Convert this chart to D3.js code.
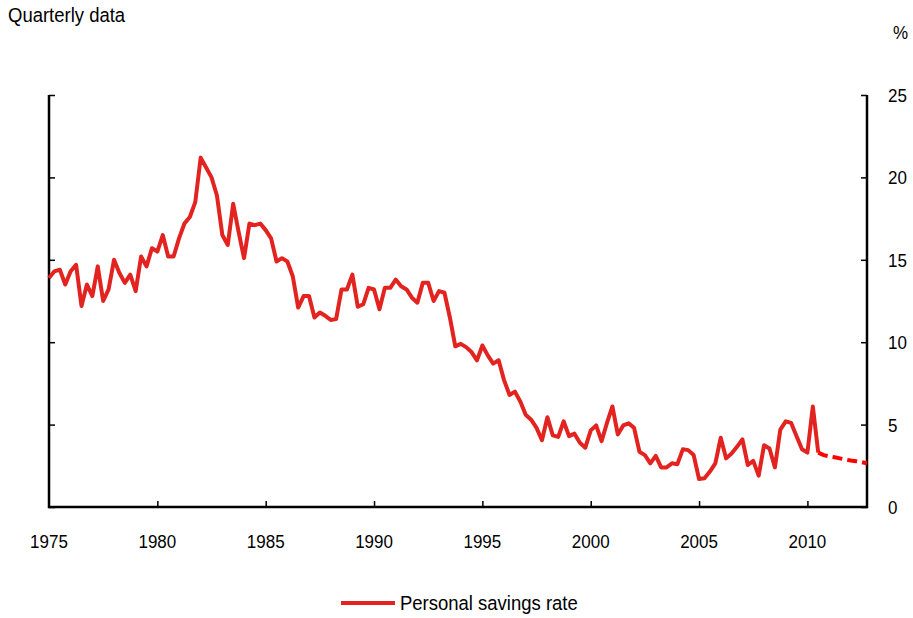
<!DOCTYPE html>
<html><head><meta charset="utf-8">
<script src="https://cdn.jsdelivr.net/npm/d3@7/dist/d3.min.js"></script>
<style>
html,body{margin:0;padding:0;background:#fff;}
svg{display:block;font-family:Arial,"Liberation Sans",sans-serif;}
</style></head>
<body><svg id="chart" width="913" height="618"></svg>
<script>
// Personal savings rate, quarterly from 1975 Q1
const startYear = 1975;
const savingsRate = [
 13.9,14.3,14.4,13.5,14.3,14.7,12.2,13.5,12.8,14.6,12.5,13.2,15.0,14.2,13.6,14.1,
 13.1,15.2,14.6,15.7,15.5,16.5,15.2,15.2,16.3,17.2,17.6,18.5,21.2,20.6,20.0,18.9,
 16.5,15.9,18.4,16.7,15.1,17.2,17.1,17.2,16.8,16.3,14.9,15.1,14.9,14.0,12.1,12.8,
 12.8,11.5,11.8,11.6,11.35,11.4,13.2,13.2,14.1,12.15,12.3,13.3,13.2,12.0,13.3,13.3,
 13.8,13.4,13.2,12.7,12.4,13.6,13.6,12.5,13.1,13.0,11.5,9.75,9.9,9.7,9.4,8.9,
 9.8,9.2,8.7,8.9,7.7,6.8,7.0,6.4,5.6,5.3,4.8,4.05,5.45,4.35,4.25,5.2,
 4.3,4.45,3.9,3.6,4.65,4.95,4.0,5.1,6.1,4.4,4.95,5.08,4.8,3.35,3.15,2.65,
 3.1,2.4,2.4,2.65,2.6,3.5,3.45,3.15,1.7,1.75,2.15,2.65,4.2,2.95,3.25,3.65,
 4.1,2.55,2.8,1.9,3.75,3.55,2.4,4.7,5.2,5.1,4.3,3.5,3.3,6.1,3.3
];
// Projection, quarterly from 2010 Q3
const projStartYear = 2010.5;
const projection = [3.3,3.15,3.08,3.02,2.95,2.88,2.82,2.78,2.72,2.65];
const xTicks = [1975,1980,1985,1990,1995,2000,2005,2010];
const yTicks = [0,5,10,15,20,25];
const seriesName = "Personal savings rate";

const svg = d3.select("#chart");
const L = 49, R = 867, T = 95, B = 507;
const x = d3.scaleLinear().domain([1975, 2012.75]).range([L, R]);
const y = d3.scaleLinear().domain([0, 25]).range([B, T]);

const solid = savingsRate.map((v,i)=>({t:startYear+i/4, v}));
const proj = projection.map((v,i)=>({t:projStartYear+i/4, v}));
const line = d3.line().x(d=>x(d.t)).y(d=>y(d.v));

// tall, slightly condensed text like the reference
function label(g, px, py, txt, size, anchor, sy) {
  return g.append("text")
    .attr("transform",`translate(${px},${py}) scale(1,${sy})`)
    .attr("text-anchor",anchor).attr("font-size",size).attr("fill","#000").text(txt);
}

// axes
const ax = svg.append("g").attr("transform",`translate(0,${B})`)
  .call(d3.axisTop(x).tickValues(xTicks.slice(1)).tickSize(6).tickFormat(""));
ax.select(".domain").remove();
ax.selectAll("line").attr("stroke","#000").attr("stroke-width",1.5);
const xl = svg.append("g");
xTicks.forEach(d=>label(xl, x(d), 548, d, 17, "middle", 1.12));

const ayL = svg.append("g").attr("transform",`translate(${L},0)`)
  .call(d3.axisRight(y).tickValues(yTicks).tickSize(6).tickFormat(""));
ayL.select(".domain").remove();
ayL.selectAll("line").attr("stroke","#000").attr("stroke-width",1.5);
const ayR = svg.append("g").attr("transform",`translate(${R},0)`)
  .call(d3.axisLeft(y).tickValues(yTicks).tickSize(6).tickFormat(""));
ayR.select(".domain").remove();
ayR.selectAll("line").attr("stroke","#000").attr("stroke-width",1.5);
const yl = svg.append("g");
yTicks.forEach(d=>label(yl, 888, y(d)+7, d, 17, "start", 1.12));

svg.append("path").attr("d",`M${L},${T}V${B}H${R}V${T}`)
  .attr("fill","none").attr("stroke","#000").attr("stroke-width",2.5);

// series
svg.append("path").datum(solid).attr("d",line)
  .attr("fill","none").attr("stroke","#e2231f").attr("stroke-width",4)
  .attr("stroke-linejoin","round");
svg.append("path").datum(proj).attr("d",line)
  .attr("fill","none").attr("stroke","#ff0000").attr("stroke-width",4)
  .attr("stroke-dasharray","10,5");

// texts
label(svg, 8, 22, "Quarterly data", 18.5, "start", 1.05);
label(svg, 893, 39, "%", 17, "start", 1.12);

// legend
svg.append("line").attr("x1",341).attr("x2",395).attr("y1",603).attr("y2",603)
  .attr("stroke","#e2231f").attr("stroke-width",4);
label(svg, 400, 610, seriesName, 18.5, "start", 1.05);
</script></body></html>
